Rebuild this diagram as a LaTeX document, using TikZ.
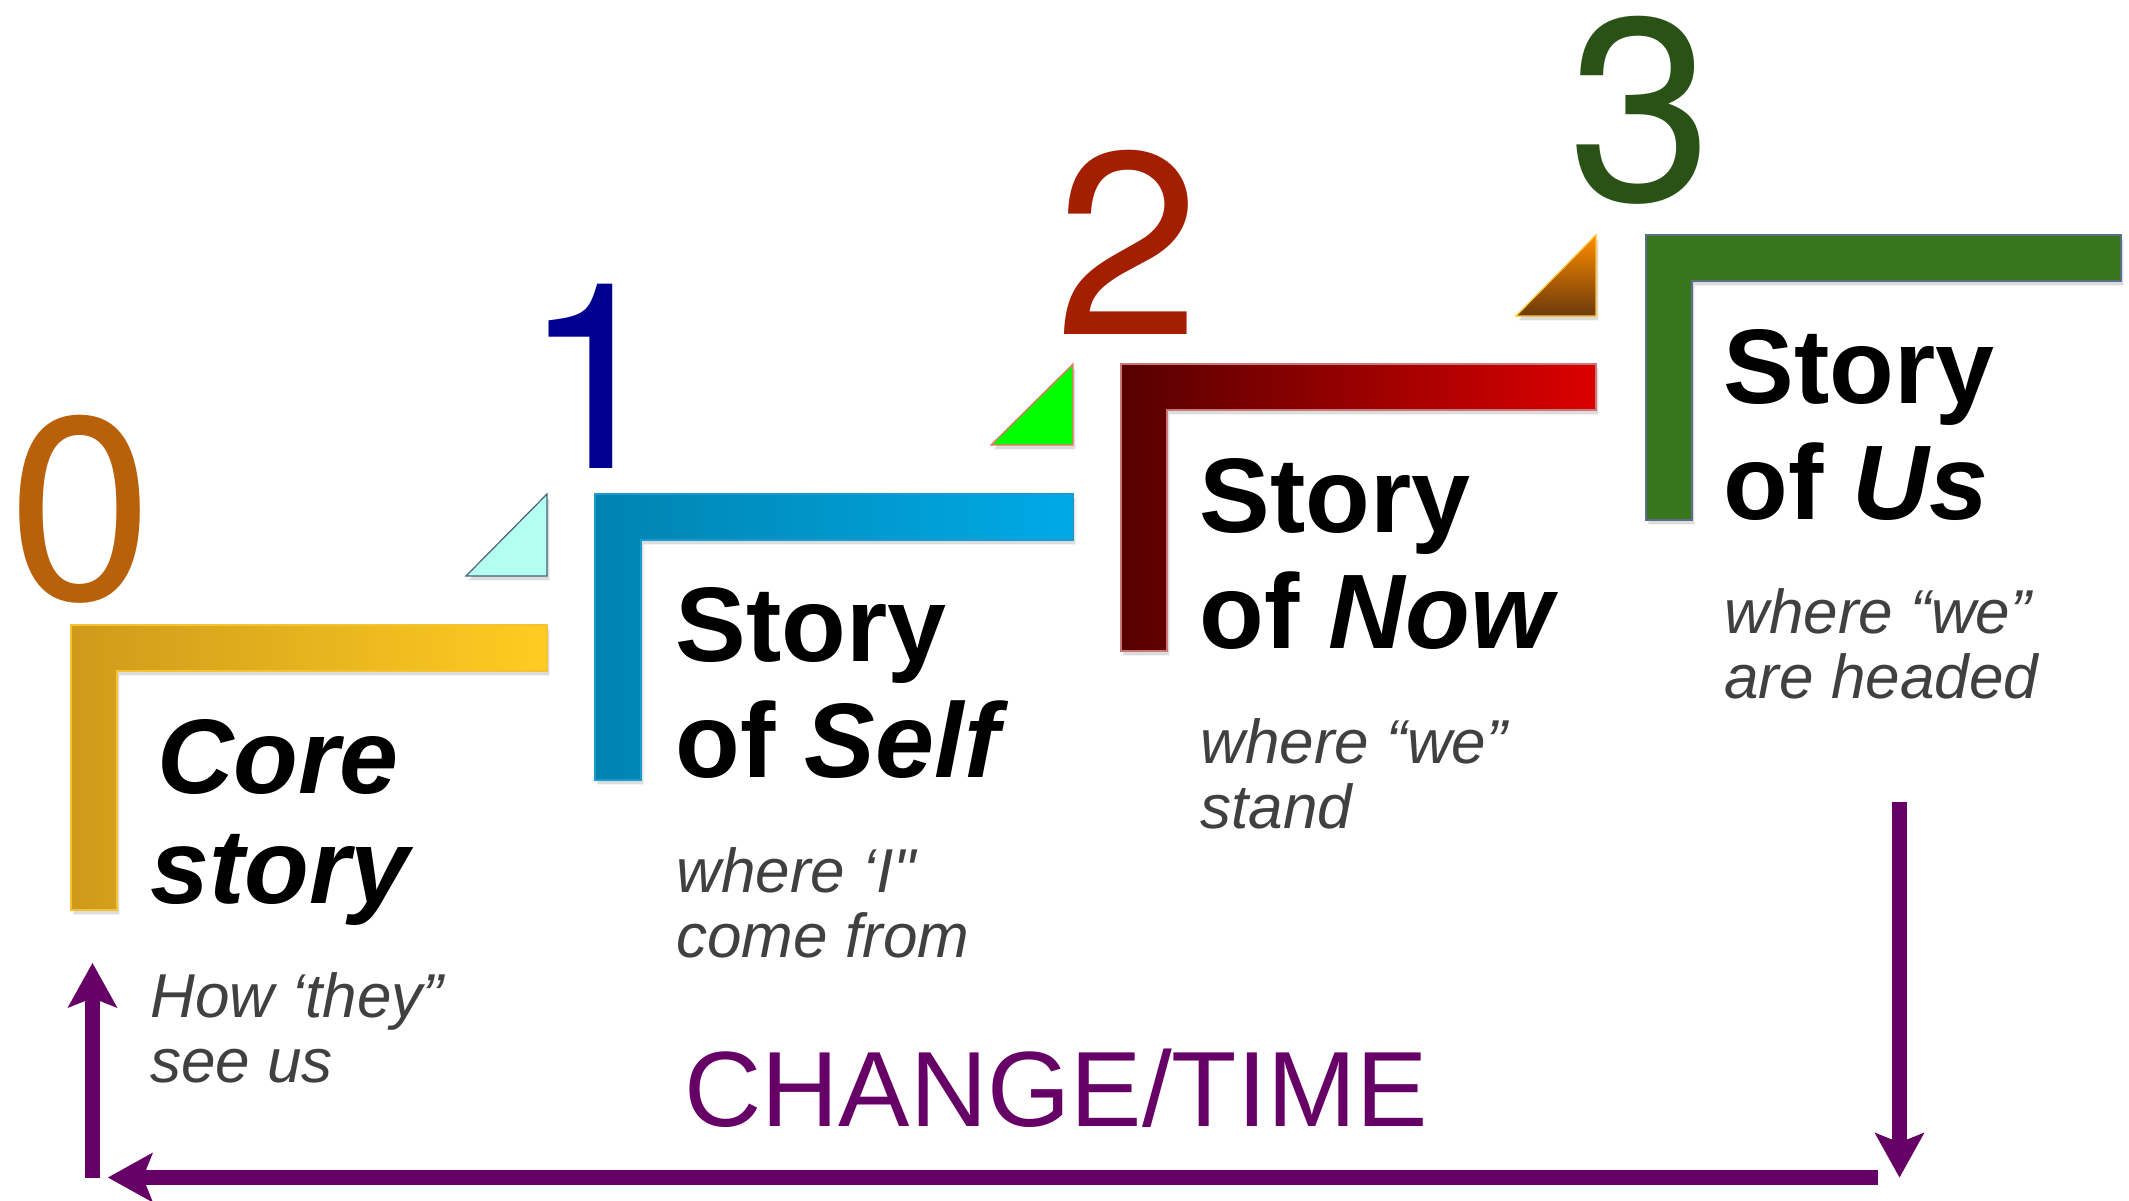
\documentclass[tikz,border=0pt]{standalone}
\usepackage{fontspec}
\setmainfont{Liberation Sans}
\newfontfamily\subfam{Liberation Sans}
\newfontfamily\digfam{TeX Gyre Heros}
\usetikzlibrary{arrows.meta,shadows}
\definecolor{dzero}{HTML}{B8600A}
\definecolor{done}{HTML}{000090}
\definecolor{dtwo}{HTML}{A41E00}
\definecolor{dthree}{HTML}{2A5217}
\definecolor{purp}{HTML}{660066}
\definecolor{subgray}{HTML}{404040}
\definecolor{yelA}{HTML}{CF9A1B}
\definecolor{yelB}{HTML}{FFCC22}
\definecolor{yelE}{HTML}{F5C232}
\definecolor{bluA}{HTML}{0083B0}
\definecolor{bluB}{HTML}{00AAE6}
\definecolor{bluE}{HTML}{1A9BD0}
\definecolor{redA}{HTML}{560000}
\definecolor{redB}{HTML}{DC0000}
\definecolor{redE}{HTML}{C87878}
\definecolor{grnL}{HTML}{38761D}
\definecolor{grnE}{HTML}{5B6E8C}
\definecolor{triA}{HTML}{B3FFF0}
\definecolor{triAE}{HTML}{4A5F7A}
\definecolor{triB}{HTML}{00FF00}
\definecolor{triBE}{HTML}{FF6A6A}
\definecolor{triCT}{HTML}{FF8C00}
\definecolor{triCB}{HTML}{6B3A0A}
\definecolor{triCE}{HTML}{FFC125}
\begin{document}
\begin{tikzpicture}[x=0.5pt,y=-0.5pt,
  digit/.style={anchor=base west,inner sep=0pt,text height=0.72em,text depth=0pt,font=\digfam\fontsize{130}{130}\selectfont},
  titletext/.style={anchor=base west,inner sep=0pt,font=\fontsize{53}{57}\selectfont\bfseries},
  subtext/.style={anchor=base west,inner sep=0pt,text=subgray,font=\subfam\fontsize{31}{33}\selectfont\itshape},
  stepshape/.style={line width=0.6pt,drop shadow={shadow xshift=1.2pt,shadow yshift=-2.2pt,opacity=0.28}},
  arr/.style={draw=purp,line width=7.5pt,-{Stealth[length=22.5pt,width=25pt,inset=5pt,line width=0pt]}}
]
\useasboundingbox (0,0) rectangle (2129,1200);

% step shapes
\path[stepshape,left color=yelA,right color=yelB,draw=yelE]
  (71,625) -- (547,625) -- (547,671) -- (117,671) -- (117,910) -- (71,910) -- cycle;
\path[stepshape,left color=bluA,right color=bluB,draw=bluE]
  (595,494) -- (1073,494) -- (1073,540) -- (641,540) -- (641,780) -- (595,780) -- cycle;
\path[stepshape,left color=redA,right color=redB,draw=redE]
  (1121,364) -- (1596,364) -- (1596,410) -- (1167,410) -- (1167,651) -- (1121,651) -- cycle;
\path[stepshape,fill=grnL,draw=grnE]
  (1646,235) -- (2121,235) -- (2121,281) -- (1692,281) -- (1692,520) -- (1646,520) -- cycle;

% triangles
\path[stepshape,fill=triA,draw=triAE] (466,576) -- (547,494) -- (547,576) -- cycle;
\path[stepshape,fill=triB,draw=triBE] (991,445) -- (1073,364) -- (1073,445) -- cycle;
\path[stepshape,top color=triCT,bottom color=triCB,draw=triCE] (1516,316) -- (1596,235) -- (1596,316) -- cycle;

% digits
\node[digit,text=dzero] (d0) at (8,599) {0};
\node[digit,text=done] (d1) at (522,468) {1};
\node[digit,text=dtwo] (d2) at (1055,334) {2};
\node[digit,text=dthree] (d3) at (1568,200) {3};

% titles
\node[titletext] (t0a) at (157,793) {\itshape Core};
\node[titletext] (t0b) at (150,903) {\itshape story};
\node[titletext] (t1a) at (675,661) {Story};
\node[titletext] (t1b) at (675,777) {of \textit{Self}};
\node[titletext] (t2a) at (1199,532) {Story};
\node[titletext] (t2b) at (1199,648) {of \textit{Now}};
\node[titletext] (t3a) at (1723,403) {Story};
\node[titletext] (t3b) at (1723,519) {of \textit{Us}};

% subtitles
\node[subtext] (s0a) at (150,1017) {How ‘they”};
\node[subtext] (s0b) at (150,1082) {see us};
\node[subtext] (s1a) at (676,892) {where ‘I"};
\node[subtext] (s1b) at (676,957) {come from};
\node[subtext] (s2a) at (1200,763) {where “we”};
\node[subtext] (s2b) at (1200,828) {stand};
\node[subtext] (s3a) at (1724,633) {where “we”};
\node[subtext] (s3b) at (1724,698) {are headed};

% change/time
\node[anchor=base west,inner sep=0pt,text=purp,font=\fontsize{53.5}{57}\selectfont] (ct) at (684,1126) {CHANGE/TIME};

% arrows
\coordinate (dstart) at (1899.5,802);
\coordinate (dend) at (1899.5,1177.5);
\coordinate (hstart) at (1878,1177.5);
\coordinate (hend) at (108,1177.5);
\coordinate (ustart) at (92.5,1177.5);
\coordinate (uend) at (92.5,963);
\draw[arr] (dstart) -- (dend);
\draw[arr] (hstart) -- (hend);
\draw[arr] (ustart) -- (uend);
\end{tikzpicture}
\end{document}
